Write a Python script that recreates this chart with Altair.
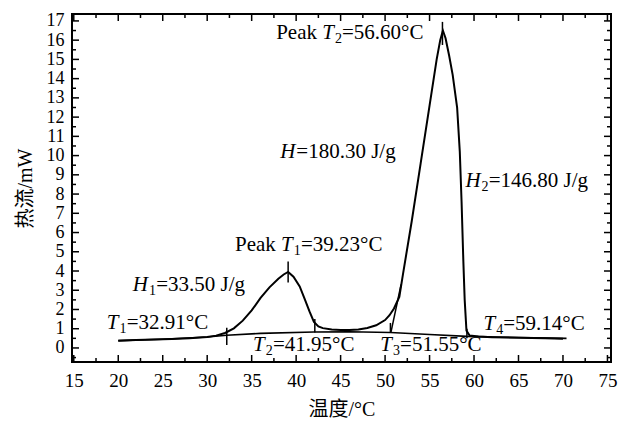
import altair as alt
import pandas as pd

# ---- data ----
temp = [20, 22, 24, 26, 28, 30, 31, 32, 33, 34, 35, 36, 37, 38, 38.6, 39.1, 39.7,
        40.4, 41.0, 41.5, 42.0, 42.5, 43.0, 44, 45, 46, 47, 48, 49, 50, 50.5, 51,
        51.6, 52, 53, 54, 55, 55.8, 56.2, 56.5, 56.8, 57.2, 57.6, 58.1, 58.4, 58.6,
        58.8, 58.95, 59.15, 59.5, 60.5, 62, 65, 68, 70]
heat = [0.38, 0.41, 0.44, 0.47, 0.51, 0.57, 0.64, 0.78, 1.02, 1.42, 1.95, 2.6, 3.15,
        3.6, 3.82, 3.95, 3.7, 3.2, 2.5, 1.9, 1.35, 1.12, 1.03, 0.96, 0.93, 0.93, 0.96,
        1.04, 1.18, 1.45, 1.7, 2.05, 2.65, 3.8, 6.6, 9.6, 12.6, 15.0, 16.0, 16.5,
        16.1, 15.2, 14.2, 12.5, 10.2, 7.6, 4.5, 2.5, 0.9, 0.65, 0.6, 0.56, 0.53, 0.5, 0.48]

base_t = [20, 25, 30, 32.2, 36, 42, 46, 50.6, 55, 59.2, 65, 70.4]
base_h = [0.38, 0.45, 0.57, 0.66, 0.76, 0.83, 0.84, 0.8, 0.7, 0.6, 0.54, 0.5]

tan_t = [50.65, 51.8]
tan_h = [0.8, 3.3]

mark_t = [32.2, 39.1, 42.1, 50.6, 56.45, 59.2]
mark_lo = [0.15, 3.4, 0.8, 0.8, 15.75, 0.5]
mark_hi = [1.05, 4.5, 1.5, 1.3, 16.95, 1.0]

x_labels = [15, 20, 25, 30, 35, 40, 45, 50, 55, 60, 65, 70, 75]
y_labels = list(range(0, 18))

# annotations: (x, y, prefix, italic var, subscript, suffix)
ann_x = [37.75, 38.2, 59.03, 33.13, 21.64, 18.72, 35.16, 49.46, 61.06]
ann_y = [16.38, 10.19, 8.68, 5.35, 3.28, 1.30, 0.16, 0.16, 1.25]
ann_pre = ["Peak ", "", "", "Peak ", "", "", "", "", ""]
ann_var = ["T", "H", "H", "T", "H", "T", "T", "T", "T"]
ann_sub = ["2", "", "2", "1", "1", "1", "2", "3", "4"]
ann_suf = ["=56.60°C", "=180.30 J/g", "=146.80 J/g", "=39.23°C", "=33.50 J/g",
           "=32.91°C", "=41.95°C", "=51.55°C", "=59.14°C"]

# ---- layout ----
XMIN, XMAX = 14.8, 75.4
YMIN, YMAX = -0.73, 17.36
W, H = 539, 348
FS = 21
SUBR = 0.68
LFS = 18
SERIF = "Liberation Serif"
CJK = "Liberation Serif, Noto Sans CJK SC"

REG = {' ': 250, 'P': 556, 'e': 444, 'a': 444, 'k': 500, '.': 250, '=': 564,
       '°': 400, 'C': 667, 'J': 389, '/': 278, 'g': 500}
ITA = {'T': 556, 'H': 722}


def wid(s, table, size):
    return sum(table.get(c, 500) for c in s) / 1000.0 * size


ppu = W / (XMAX - XMIN)
reg_rows, ita_rows, sub_rows = [], [], []
for x0, y0, pre, var, sub, suf in zip(ann_x, ann_y, ann_pre, ann_var, ann_sub, ann_suf):
    px = 0.0
    if pre:
        reg_rows.append({"x": x0, "y": y0, "text": pre})
        px += wid(pre, REG, FS)
    ita_rows.append({"x": x0 + px / ppu, "y": y0, "text": var})
    px += wid(var, ITA, FS) + 1
    if sub:
        sub_rows.append({"x": x0 + px / ppu, "y": y0, "text": sub})
        px += wid(sub, REG, FS * SUBR)
    reg_rows.append({"x": x0 + px / ppu, "y": y0, "text": suf})

xs = alt.Scale(domain=[XMIN, XMAX], nice=False, zero=False)
ys = alt.Scale(domain=[YMIN, YMAX], nice=False, zero=False)

AX = alt.Axis(values=x_labels, ticks=False, domain=False, grid=False, title="温度/°C",
              labelFont=SERIF, labelFontSize=LFS + 1, labelPadding=9, labelOverlap=False,
              labelFlush=False, labelColor="black", titleFont=CJK, titleFontSize=20,
              titleFontWeight="normal", titleColor="black", titlePadding=9)
AY = alt.Axis(values=y_labels, ticks=False, domain=False, grid=False, title="热流/mW",
              labelFont=SERIF, labelFontSize=LFS, labelPadding=8, labelOverlap=False,
              labelFlush=False, labelColor="black", titleFont=CJK, titleFontSize=20,
              titleFontWeight="normal", titleColor="black", titlePadding=11)


def X(f):
    return alt.X(f, scale=xs, axis=AX, title="温度/°C")


def Y(f):
    return alt.Y(f, scale=ys, axis=AY, title="热流/mW")


curve = alt.Chart(pd.DataFrame({"t": temp, "q": heat})).mark_line(
    color="black", strokeWidth=2).encode(x=X("t:Q"), y=Y("q:Q"))

base = alt.Chart(pd.DataFrame({"t": base_t, "q": base_h})).mark_line(
    color="black", strokeWidth=1.6).encode(x=X("t:Q"), y=Y("q:Q"))

tangent = alt.Chart(pd.DataFrame({"t": tan_t, "q": tan_h})).mark_line(
    color="black", strokeWidth=1.5).encode(x=X("t:Q"), y=Y("q:Q"))

markers = alt.Chart(pd.DataFrame({"t": mark_t, "lo": mark_lo, "hi": mark_hi})).mark_rule(
    color="black", strokeWidth=1.5).encode(x=X("t:Q"), y=Y("lo:Q"), y2="hi:Q")

# frame ticks (inward)
xt_major = pd.DataFrame({"v": x_labels})
xt_minor = pd.DataFrame({"v": [v + 2.5 for v in x_labels[:-1]]})
yt_major = pd.DataFrame({"v": y_labels})
yt_minor = pd.DataFrame({"v": [v + 0.5 for v in range(-1, 17)]})

tick_layers = []
for df, ln in [(xt_major, 7), (xt_minor, 4)]:
    for y1, y2 in [(H, H - ln), (0, ln)]:
        tick_layers.append(alt.Chart(df).mark_rule(color="black", strokeWidth=1.5).encode(
            x=X("v:Q"), y=alt.value(y1), y2=alt.value(y2)))
for df, ln in [(yt_major, 7), (yt_minor, 4)]:
    for x1, x2 in [(0, ln), (W, W - ln)]:
        tick_layers.append(alt.Chart(df).mark_rule(color="black", strokeWidth=1.5).encode(
            y=Y("v:Q"), x=alt.value(x1), x2=alt.value(x2)))


def text_layer(rows, italic=False, size=FS, dy=0):
    return alt.Chart(pd.DataFrame(rows)).mark_text(
        font=SERIF, fontSize=size, fontStyle="italic" if italic else "normal",
        align="left", baseline="middle", color="black", dy=dy).encode(
        x=X("x:Q"), y=Y("y:Q"), text="text:N")


texts = [text_layer(reg_rows), text_layer(ita_rows, italic=True),
         text_layer(sub_rows, size=round(FS * SUBR), dy=6)]

chart = alt.layer(curve, base, tangent, markers, *tick_layers, *texts).properties(
    width=W, height=H, background="white",
    padding={"left": 64, "top": 6, "right": 17, "bottom": 60},
    autosize=alt.AutoSizeParams(type="none"),
).configure_view(stroke="black", strokeWidth=2)

chart.save("out.html", embed_options={"renderer": "svg", "actions": False})
